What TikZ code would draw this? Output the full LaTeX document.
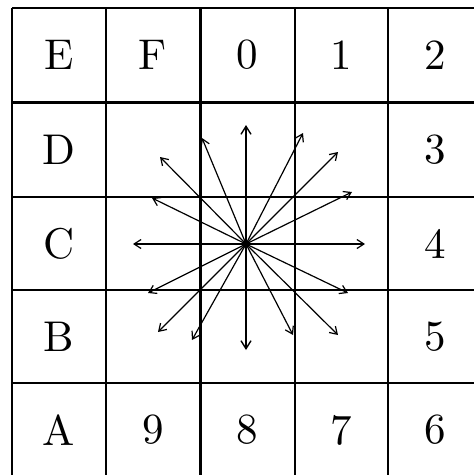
\documentclass[tikz,border=0pt]{standalone}
\usetikzlibrary{arrows.meta}
\begin{document}
\begin{tikzpicture}[x=1pt,y=-1pt,
  gridline/.style={line width=1.5pt},
  thickline/.style={line width=3pt},
  lbl/.style={font=\fontsize{10}{12}\selectfont, scale=4.3, inner sep=0pt},
  dirarrow/.style={line width=1.2pt, -{Straight Barb[length=7pt,width=9pt,line width=1.2pt]}},
  mainarrow/.style={line width=2pt, -{Straight Barb[length=8pt,width=10pt,line width=1.4pt]}}]
\fill[white] (0,0) rectangle (474,475);
\useasboundingbox (0,0) rectangle (474,475);
\clip (0,0) rectangle (474,475);
% grid
\foreach \x in {12,106,295,388,482} \draw[gridline] (\x,8) -- (\x,490);
\foreach \y in {197,290,383,477} \draw[gridline] (12,\y) -- (490,\y);
\draw[gridline] (12,8) -- (490,8);
\draw[thickline] (200,8) -- (200,490);
\draw[thickline] (12,102) -- (490,102);
% labels
\node[lbl] (cE) at (59,55) {E};
\node[lbl] (cF) at (153,55) {F};
\node[lbl] (c0) at (247.5,55) {0};
\node[lbl] (c1) at (341.5,55) {1};
\node[lbl] (c2) at (435,55) {2};
\node[lbl] (c3) at (435,149.5) {3};
\node[lbl] (c4) at (435,243.5) {4};
\node[lbl] (c5) at (435,336.5) {5};
\node[lbl] (c6) at (435,430) {6};
\node[lbl] (c7) at (341.5,430) {7};
\node[lbl] (c8) at (247.5,430) {8};
\node[lbl] (c9) at (153,430) {9};
\node[lbl] (cA) at (59,430) {A};
\node[lbl] (cB) at (59,336.5) {B};
\node[lbl] (cC) at (59,243.5) {C};
\node[lbl] (cD) at (59,149.5) {D};
% arrows
\node[circle, fill=black, inner sep=0pt, minimum size=8pt] (o) at (246,244) {};
\coordinate (t0) at (246,125);
\coordinate (t1) at (303,133);
\coordinate (t2) at (338,152);
\coordinate (t3) at (352,192);
\coordinate (t4) at (365,244);
\coordinate (t5) at (348,293);
\coordinate (t6) at (338,335);
\coordinate (t7) at (293,335);
\coordinate (t8) at (246,350);
\coordinate (t9) at (192,340);
\coordinate (tA) at (158,332);
\coordinate (tB) at (148,293);
\coordinate (tC) at (133,244);
\coordinate (tD) at (152,198);
\coordinate (tE) at (160,157);
\coordinate (tF) at (202,138);
\draw[mainarrow] (o.center) -- (t0);
\draw[mainarrow] (o.center) -- (t8);
\foreach \t in {1,2,3,4,5,6,7,9,A,B,C,D,E,F}
  \draw[dirarrow] (o.center) -- (t\t);
\end{tikzpicture}
\end{document}
